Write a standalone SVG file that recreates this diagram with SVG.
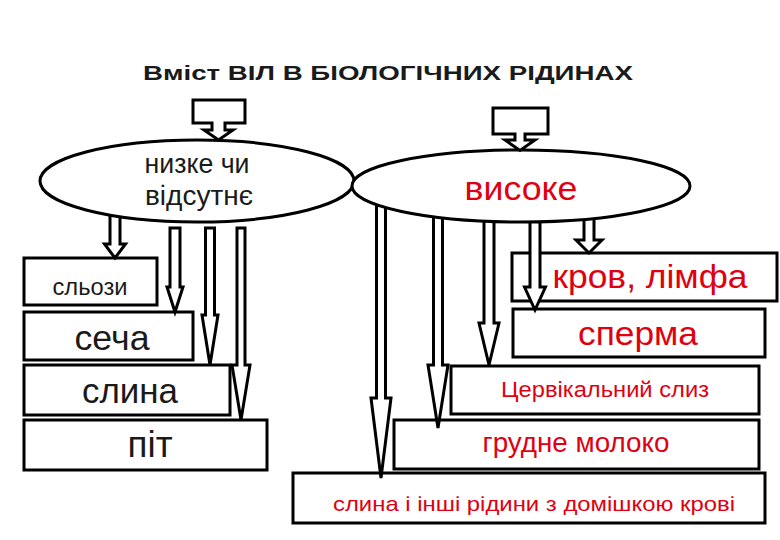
<svg xmlns="http://www.w3.org/2000/svg" width="780" height="540" viewBox="0 0 780 540">
<style>
.box{fill:#fff;stroke:#000;stroke-width:3}
.ell{fill:#fff;stroke:#000;stroke-width:3}
.arr{fill:#fff;stroke:#000;stroke-width:3;stroke-linejoin:miter}
.t{font-family:"Liberation Sans",Arial,sans-serif;text-anchor:middle}
.dk{fill:#1a1a1a}
.rd{fill:#e00010}
</style>
<rect width="780" height="540" fill="#fff"/>
<text class="t dk" x="388" y="80" font-size="20" font-weight="bold" textLength="490" lengthAdjust="spacingAndGlyphs">Вміст ВІЛ В БІОЛОГІЧНИХ РІДИНАХ</text>

<g id="n-slozy"><rect class="box" x="24" y="258" width="133" height="47"/><text class="t dk" x="90" y="295" font-size="23" textLength="75" lengthAdjust="spacingAndGlyphs">сльози</text></g>
<g id="n-secha"><rect class="box" x="24" y="312" width="169" height="48"/><text class="t dk" x="112" y="350" font-size="35" textLength="75" lengthAdjust="spacingAndGlyphs">сеча</text></g>
<g id="n-slyna"><rect class="box" x="24" y="365" width="206" height="50"/><text class="t dk" x="130" y="403" font-size="35" textLength="96" lengthAdjust="spacingAndGlyphs">слина</text></g>
<g id="n-pit"><rect class="box" x="24" y="420" width="243" height="50"/><text class="t dk" x="150" y="457" font-size="36" textLength="45" lengthAdjust="spacingAndGlyphs">піт</text></g>

<g id="n-krov"><rect class="box" x="512" y="253" width="265" height="48"/><text class="t rd" x="650" y="288" font-size="34" textLength="195" lengthAdjust="spacingAndGlyphs">кров, лімфа</text></g>
<g id="n-sperma"><rect class="box" x="513" y="309" width="252" height="48"/><text class="t rd" x="638" y="345" font-size="34" textLength="120" lengthAdjust="spacingAndGlyphs">сперма</text></g>
<g id="n-cerv"><rect class="box" x="451" y="366" width="308" height="48"/><text class="t rd" x="605" y="397" font-size="22" textLength="208" lengthAdjust="spacingAndGlyphs">Цервікальний слиз</text></g>
<g id="n-moloko"><rect class="box" x="394" y="420" width="365" height="49"/><text class="t rd" x="576" y="452" font-size="28" textLength="187" lengthAdjust="spacingAndGlyphs">грудне молоко</text></g>
<g id="n-inshi"><rect class="box" x="293" y="473" width="472" height="50"/><text class="t rd" x="534" y="511" font-size="21" textLength="402" lengthAdjust="spacingAndGlyphs">слина і інші рідини з домішкою крові</text></g>

<g id="connectors">
<polygon class="arr" points="110,205 120,205 120,244 125.5,244 115,258 104.5,244 110,244"/>
<polygon class="arr" points="170,228 180,228 180,287 183,287 175,312 167,287 170,287"/>
<polygon class="arr" points="205.5,228 214.5,228 214.5,315 218,315 210,365 202,315 205.5,315"/>
<polygon class="arr" points="237,228 245,228 245,365 250,365 241,420 232,365 237,365"/>
<polygon class="arr" points="376.5,195 385.5,195 385.5,398 391,398 381,478 371,398 376.5,398"/>
<polygon class="arr" points="433.5,200 442.5,200 442.5,365 448,365 438,428 428,365 433.5,365"/>
<polygon class="arr" points="484,200 494,200 494,323 499,323 489,365 479,323 484,323"/>
<polygon class="arr" points="530,200 540,200 540,287 545.5,287 535,310 524.5,287 530,287"/>
<polygon class="arr" points="584,210 594,210 594,240 602,240 589,253 576,240 584,240"/>
</g>

<g id="n-nyzke"><ellipse class="ell" cx="197" cy="181" rx="157" ry="41"/><text class="t dk" x="197" y="173" font-size="27" textLength="105" lengthAdjust="spacingAndGlyphs">низке чи</text><text class="t dk" x="199" y="205" font-size="27" textLength="108" lengthAdjust="spacingAndGlyphs">відсутнє</text></g>
<g id="n-vysoke"><ellipse class="ell" cx="521" cy="186" rx="169" ry="36"/><text class="t rd" x="521" y="200" font-size="34" textLength="113" lengthAdjust="spacingAndGlyphs">високе</text></g>

<g id="callout-left"><path class="arr" d="M193,100 H245 V123 H225 V130 H233 L218.5,140 L204,130 H212 V123 H193 Z"/></g>
<g id="callout-right"><path class="arr" d="M493,108 H548 V134 H525 V140 H535 L520,150.5 L505,140 H515 V134 H493 Z"/></g>
</svg>
